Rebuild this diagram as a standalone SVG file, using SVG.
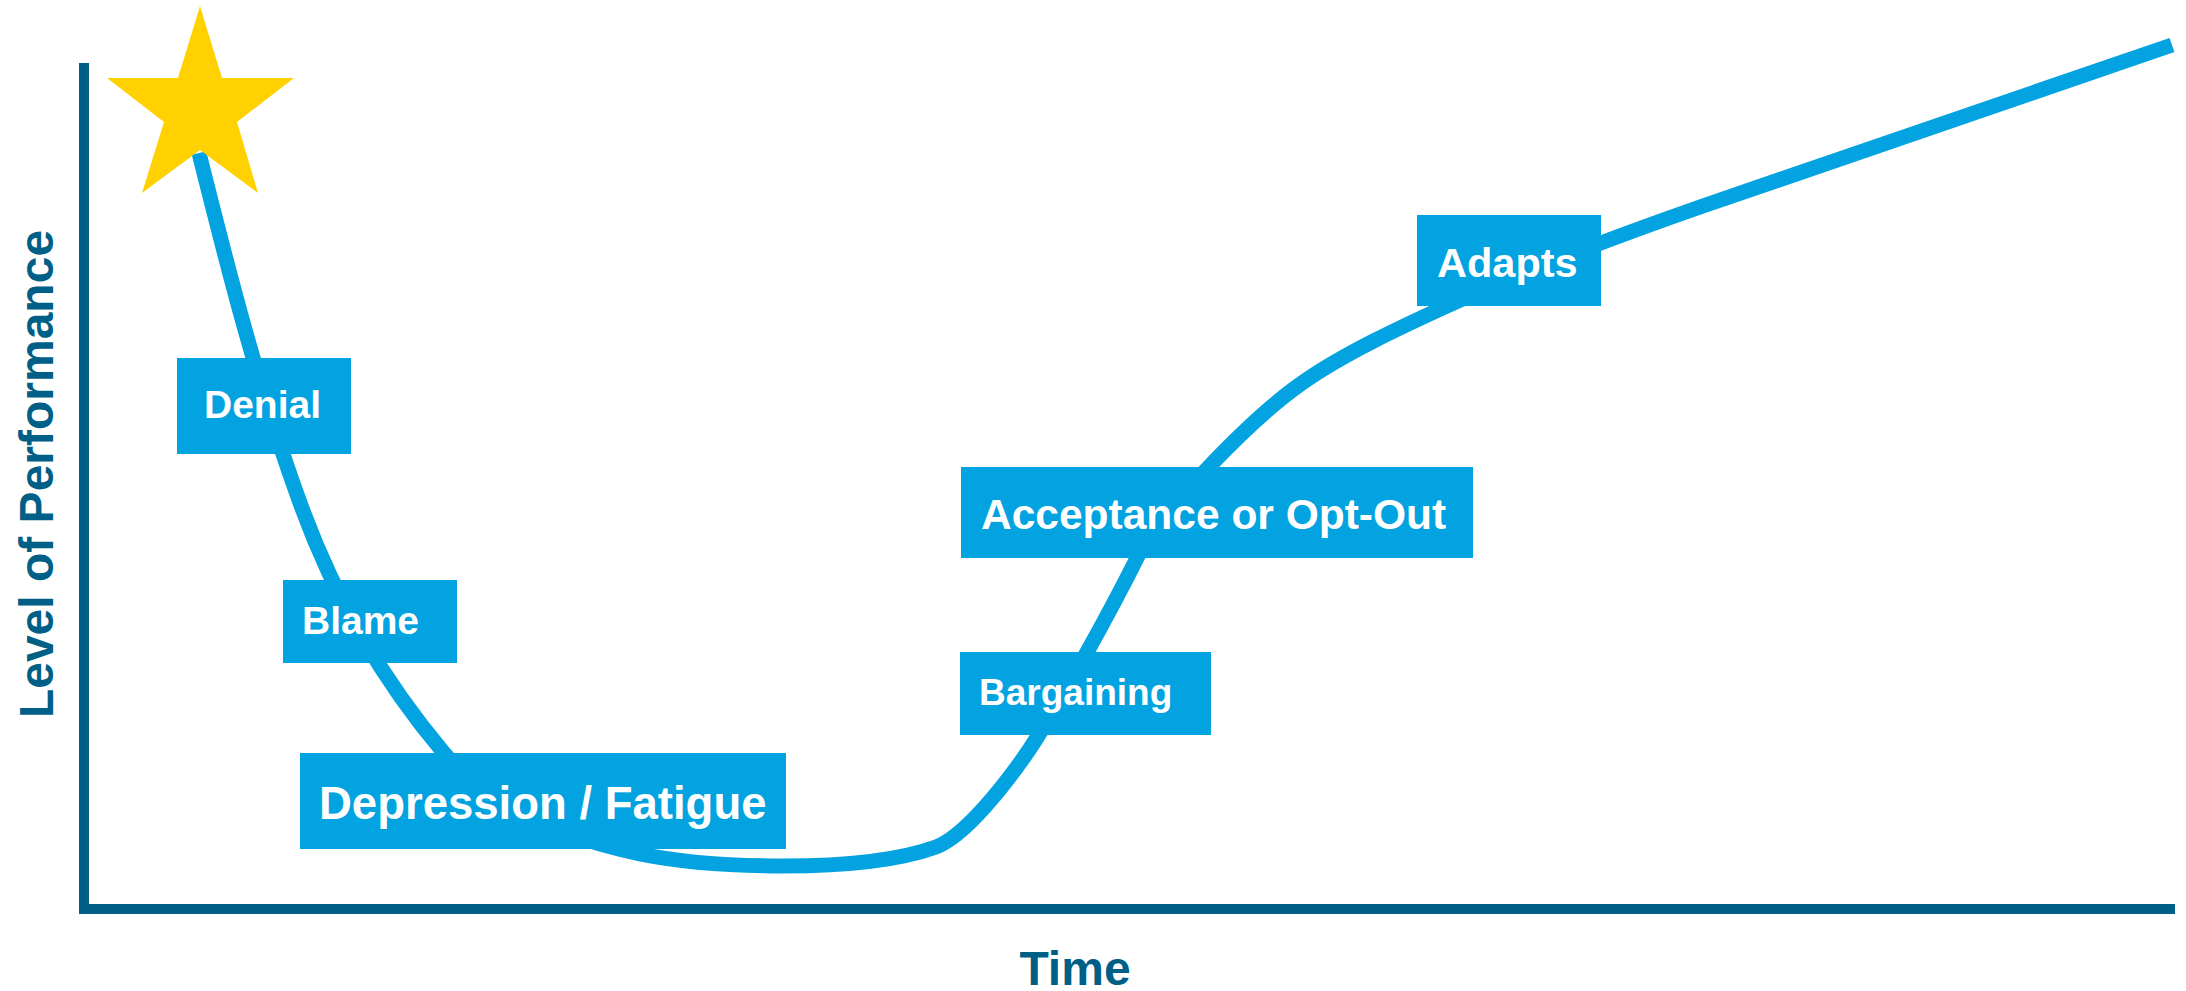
<svg xmlns="http://www.w3.org/2000/svg" width="2186" height="991" viewBox="0 0 2186 991">
  <style>
    .axis { fill: #005F87; }
    .axis-label { font-family: "Liberation Sans", Arial, sans-serif; font-weight: bold; font-size: 48px; fill: #005F87; }
    .curve { fill: none; stroke: #02A3E0; stroke-width: 15; stroke-linejoin: round; stroke-linecap: butt; }
    .stage rect { fill: #02A3E0; }
    .stage text { font-family: "Liberation Sans", Arial, sans-serif; font-weight: bold; fill: #FFFFFF; }
    .star { fill: #FFD100; }
  </style>
  <rect width="2186" height="991" fill="#FFFFFF"/>

  <!-- axes -->
  <g id="axes">
    <rect class="axis" x="79" y="63" width="10" height="851"/>
    <rect class="axis" x="79" y="904" width="2096" height="10"/>
    <text class="axis-label" transform="translate(53,474) rotate(-90)" text-anchor="middle">Level of Performance</text>
    <text class="axis-label" x="1075" y="985" text-anchor="middle" font-size="47">Time</text>
  </g>

  <!-- performance curve -->
  <g id="connectors">
    <path class="curve" d="M199,153 C228,269 257,384 299,500 C329,584 373,669 444,753 C478,793 530,830 640,854 C690,864 740,866 783,866 C850,866 900,860 936,847 C965,836 1005,785 1029,750 C1062,700 1112,608 1137,558 C1159,513 1253,417 1302,383 C1343,354 1401,327 1447,306 C1520,273 1620,235 1700,207 L2172,45"/>
  </g>

  <g id="star">
    <polygon class="star" points="200,6 222,78 294,78 237,122 258,193 200,150 142,193 164,122 107,78 178,78"/>
  </g>

  <g id="denial" class="stage">
    <rect x="177" y="358" width="174" height="96"/>
    <text x="204" y="418" font-size="39">Denial</text>
  </g>

  <g id="blame" class="stage">
    <rect x="283" y="580" width="174" height="83"/>
    <text x="302" y="634" font-size="39">Blame</text>
  </g>

  <g id="depression" class="stage">
    <rect x="300" y="753" width="486" height="96"/>
    <text x="319" y="819" font-size="45.5">Depression / Fatigue</text>
  </g>

  <g id="bargaining" class="stage">
    <rect x="960" y="652" width="251" height="83"/>
    <text x="979" y="705" font-size="37">Bargaining</text>
  </g>

  <g id="acceptance" class="stage">
    <rect x="961" y="467" width="512" height="91"/>
    <text x="981" y="529" font-size="42.5">Acceptance or Opt-Out</text>
  </g>

  <g id="adapts" class="stage">
    <rect x="1417" y="215" width="184" height="91"/>
    <text x="1437" y="277" font-size="41.5">Adapts</text>
  </g>
</svg>
